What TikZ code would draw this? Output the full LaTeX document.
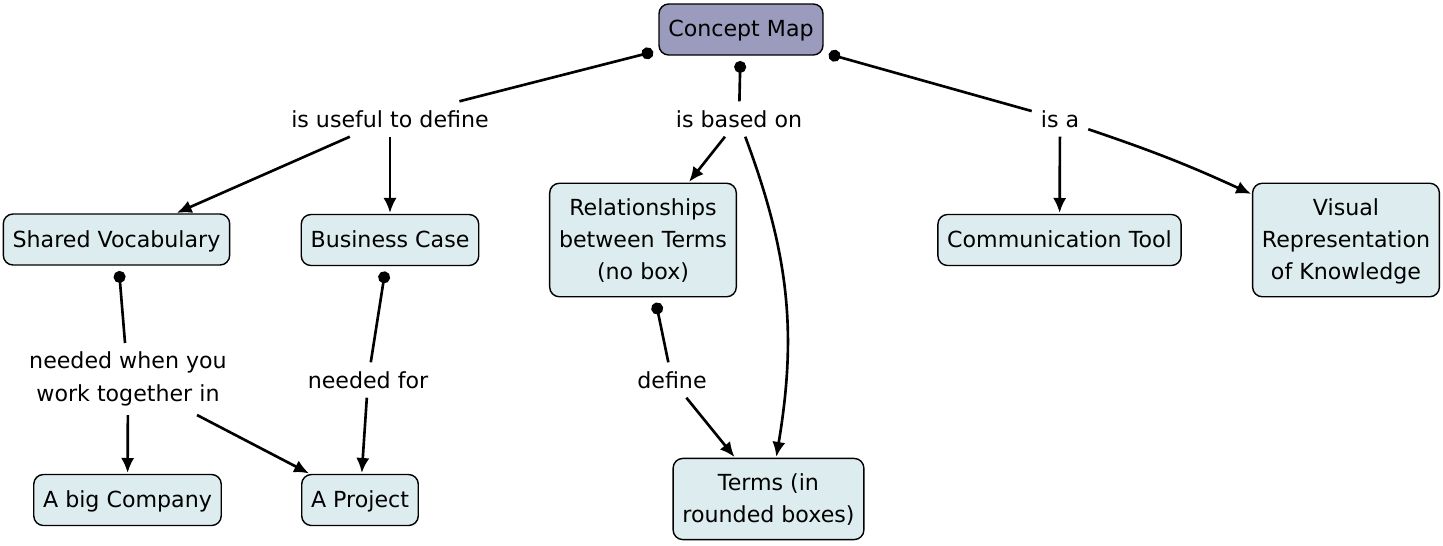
\documentclass[tikz,border=0pt]{standalone}
\usepackage{fontspec}
\setmainfont{DejaVu Sans}
\usetikzlibrary{arrows.meta}
\definecolor{cmapblue}{HTML}{DDEDEF}
\definecolor{cmappurple}{HTML}{9B9BBE}

\begin{document}
\begin{tikzpicture}[>={Latex[length=8.5pt,width=7.5pt]},
  concept/.style={draw, line width=0.8pt, rounded corners=5.5pt, fill=cmapblue,
    align=center, inner xsep=5.3pt, inner ysep=8.6pt, minimum height=1.02cm,
    text depth=0.1em},
  phrase/.style={align=center, inner sep=5pt},
  link/.style={->, line width=1.5pt, shorten >=0.5pt},
  dotlink/.style={{Circle[length=6.8pt]}-, line width=1.5pt, shorten <=3pt},
  font=\fontsize{12.6}{18.4}\selectfont]
  \useasboundingbox (0,0) rectangle (28.86,-10.9);

  % top concept
  \node[concept, fill=cmappurple] (cmap) at (14.82,-0.59) {Concept Map};

  \node[phrase] (useful) at (7.80,-2.38) {is useful to define};
  \node[phrase] (based) at (14.78,-2.38) {is based on};
  \node[phrase] (isa) at (21.20,-2.38) {is a};

  \draw[dotlink] (cmap) -- (useful);
  \draw[dotlink] (cmap) -- (based);
  \draw[dotlink] (cmap) -- (isa);

  % middle row
  \node[concept] (shared) at (2.33,-4.79) {Shared Vocabulary};
  \node[concept] (business) at (7.80,-4.80) {Business Case};
  \node[concept] (relations) at (12.86,-4.80) {Relationships\\between Terms\\(no box)};
  \node[concept] (comm) at (21.19,-4.80) {Communication Tool};
  \node[concept] (visual) at (26.92,-4.80) {Visual\\Representation\\of Knowledge};

  \draw[link] (useful) -- (shared);
  \draw[link] (useful) -- (business);
  \draw[link] (based) -- (relations);
  \draw[link] (isa) -- (comm);
  \draw[link] (isa) to[bend left=3] (visual);

  % lower row
  \node[phrase] (together) at (2.56,-7.58) {needed when you\\work together in};
  \node[phrase] (neededfor) at (7.36,-7.60) {needed for};
  \node[phrase] (define) at (13.44,-7.60) {define};

  \node[concept] (company) at (2.55,-10.00) {A big Company};
  \node[concept] (project) at (7.20,-10.00) {A Project};
  \node[concept] (terms) at (15.37,-9.98) {Terms (in\\rounded boxes)};

  \draw[dotlink] (shared) -- (together);
  \draw[dotlink] (business) -- (neededfor);
  \draw[dotlink] (relations) -- (define);

  \draw[link] (together) -- (company);
  \draw[link] (together) -- (project);
  \draw[link] (neededfor) -- (project);
  \draw[link] (define) -- (terms);
  \draw[link] (based) to[bend left=15] (terms);
\end{tikzpicture}
\end{document}
